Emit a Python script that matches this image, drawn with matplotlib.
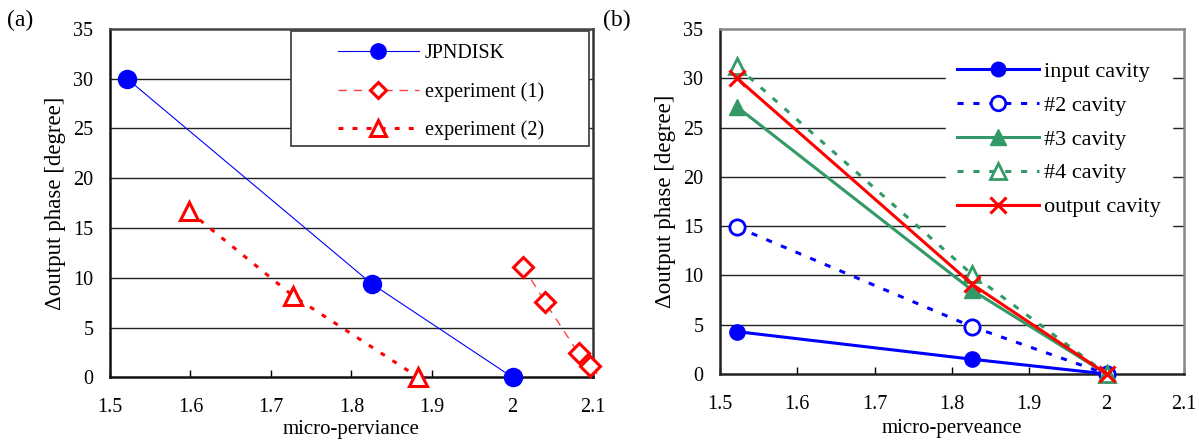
import matplotlib
matplotlib.use("Agg")
import matplotlib.pyplot as plt
from matplotlib.patches import Rectangle

plt.rcParams['font.family'] = ['Liberation Serif', 'DejaVu Serif']

# Panel (a) data
jpn_x = [1.521, 1.825, 2.0]
jpn_y = [30.0, 9.4, 0.0]
exp1_x = [2.0135, 2.040, 2.082, 2.0957, 2.110]
exp1_y = [11.1, 7.6, 2.4, 1.1, 0.0]
exp2_x = [1.598, 1.727, 1.883]
exp2_y = [16.7, 8.2, 0.0]

# Panel (b) data
b_x = [1.522, 1.826, 2.0]
input_y = [4.3, 1.5, 0.0]
c2_y = [14.9, 4.8, 0.0]
c3_y = [27.1, 8.5, 0.0]
c4_y = [31.2, 10.1, 0.0]
out_y = [30.0, 9.1, 0.0]

xticks = [1.5, 1.6, 1.7, 1.8, 1.9, 2.0, 2.1]
xticklabels = ['1.5', '1.6', '1.7', '1.8', '1.9', '2', '2.1']
yticks = [0, 5, 10, 15, 20, 25, 30, 35]

blue = '#0000FF'
red = '#FF0000'
green = '#339966'

fig = plt.figure(figsize=(11.99, 4.41), dpi=100)
axa = fig.add_axes([0.0917, 0.1444, 0.4029, 0.7905])
axb = fig.add_axes([0.6005, 0.1519, 0.3870, 0.7823])

def style(ax, xlabel, spine_colors):
    ax.set_xlim(1.5, 2.1)
    ax.set_ylim(0, 35)
    ax.set_xticks(xticks)
    ax.set_xticklabels(xticklabels)
    ax.set_yticks(yticks)
    ax.tick_params(axis='x', direction='in', length=5, width=1, pad=15, labelsize=14.5)
    ax.tick_params(axis='y', length=0, pad=12, labelsize=14.5)
    for t in ax.get_yticks()[1:-1]:
        ax.axhline(t, color='#222222', lw=1.0, zorder=0)
    for side, c in spine_colors.items():
        ax.spines[side].set_color(c)
        ax.spines[side].set_linewidth(1.8)
    ax.set_xlabel(xlabel, fontsize=15)
    ax.set_ylabel('Δoutput phase [degree]', fontsize=16.5)

style(axa, 'micro-perviance',
      {'left': '#111111', 'bottom': '#111111', 'top': '#444444', 'right': '#333333'})
style(axb, 'micro-perveance',
      {'left': '#222222', 'bottom': '#222222', 'top': '#888888', 'right': '#888888'})
axa.xaxis.set_label_coords(0.5, -0.122)
axa.yaxis.set_label_coords(-0.09, 0.5)
axb.xaxis.set_label_coords(0.5, -0.13)
axb.yaxis.set_label_coords(-0.095, 0.5)

# Panel (a)
axa.plot(jpn_x, jpn_y, color=blue, lw=0.8, marker='o', ms=13,
         mfc=blue, mec=blue, label='JPNDISK', zorder=3, clip_on=False)
axa.plot(exp1_x, exp1_y, color='#FF4040', lw=1.0, dashes=(6, 5), marker='D', ms=10,
         mfc='white', mec=red, mew=2.2, markevery=[0, 1, 2, 3],
         label='experiment (1)', zorder=3, clip_on=False)
axa.plot(exp2_x, exp2_y, color=red, lw=2.2, dashes=(1.6, 3.0), marker='^', ms=13,
         mfc='white', mec=red, mew=2.2, label='experiment (2)', zorder=3, clip_on=False)
axa.add_patch(Rectangle((0.375, 0.663), 0.617, 0.329, transform=axa.transAxes,
                        facecolor='white', edgecolor='#444444', lw=1.3, zorder=5))
lega = axa.legend(loc='upper left', bbox_to_anchor=(0.472, 0.955), borderaxespad=0,
                  fontsize=14.5, handlelength=4.0, handletextpad=0.3,
                  labelspacing=0.92, borderpad=0, frameon=False, markerscale=0.85)
lega.set_zorder(6)

# Panel (b)
axb.plot(b_x, input_y, color=blue, lw=2.2, marker='o', ms=11,
         mfc=blue, mec=blue, label='input cavity', zorder=3, clip_on=False)
axb.plot(b_x, c2_y, color=blue, lw=2.2, dashes=(2.0, 3.2), marker='o', ms=11,
         mfc='white', mec=blue, mew=2.0, label='#2 cavity', zorder=3, clip_on=False)
axb.plot(b_x, c3_y, color=green, lw=2.2, marker='^', ms=12,
         mfc=green, mec=green, label='#3 cavity', zorder=3, clip_on=False)
axb.plot(b_x, c4_y, color=green, lw=2.2, dashes=(2.0, 3.2), marker='^', ms=12,
         mfc='white', mec=green, mew=2.0, label='#4 cavity', zorder=3, clip_on=False)
axb.plot(b_x, out_y, color=red, lw=2.2, marker='x', ms=12,
         mec=red, mew=2.2, label='output cavity', zorder=4, clip_on=False)
legb = axb.legend(loc='upper left', bbox_to_anchor=(0.487, 0.939), borderaxespad=0,
                  fontsize=16, handlelength=3.7, handletextpad=0.22, labelspacing=0.6,
                  borderpad=0.5, frameon=True, fancybox=False, edgecolor='white',
                  framealpha=1, markerscale=0.95)
legb.set_zorder(6)

fig.text(0.006, 0.953, '(a)', fontsize=17, ha='left', va='center')
fig.text(0.503, 0.953, '(b)', fontsize=17, ha='left', va='center')

fig.savefig('out.png', dpi=100)
